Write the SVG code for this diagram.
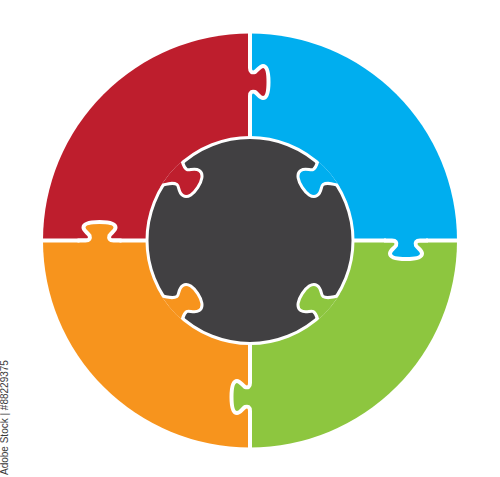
<svg xmlns="http://www.w3.org/2000/svg" xmlns:xlink="http://www.w3.org/1999/xlink" width="500" height="477" viewBox="0 0 500 477">
<style>
.gap{stroke:#ffffff;stroke-width:4;fill:none}
.ngap{stroke:#ffffff;stroke-width:3;stroke-linejoin:round}
.red{fill:#BE1E2D}.blue{fill:#00AEEF}.green{fill:#8DC63F}.orange{fill:#F7941D}.dark{fill:#414042}
.wm{font-family:"Liberation Sans",Arial,sans-serif;font-size:10px;fill:#3a3a3a}
</style>
<defs>
<path id="tabFill" d="M-20,-3 L-20,0 L-14,0 C-10,0 -9,2 -10,5 C-12,8 -16,10 -16,13 C-16,17 -9,18.5 0,18.5 C9,18.5 16,17 16,13 C16,10 12,8 10,5 C9,2 10,0 14,0 L20,0 L20,-3 Z"/>
<path id="tabLine" d="M-22,0 L-14,0 C-10,0 -9,2 -10,5 C-12,8 -16,10 -16,13 C-16,17 -9,18.5 0,18.5 C9,18.5 16,17 16,13 C16,10 12,8 10,5 C9,2 10,0 14,0 L22,0"/>
<path id="notch" d="M-23,-30 L-22,-6 C-15,0 -9,5 -9,10 C-9,13 -15,15 -15,21 C-15,27 -7,29 0,29 C7,29 15,27 15,21 C15,15 9,13 9,10 C9,5 15,0 22,-6 L23,-30 Z"/>
<clipPath id="inner"><circle cx="250" cy="240.5" r="104.5"/></clipPath>
</defs>
<g id="piece-red">
<path class="red" d="M250,240.5 L250,33.5 A207,207 0 0 0 43,240.5 Z"/>
</g>
<g id="piece-blue">
<path class="blue" d="M250,240.5 L250,33.5 A207,207 0 0 1 457,240.5 Z"/>
</g>
<g id="piece-green">
<path class="green" d="M250,240.5 L457,240.5 A207,207 0 0 1 250,447.5 Z"/>
</g>
<g id="piece-orange">
<path class="orange" d="M250,240.5 L250,447.5 A207,207 0 0 1 43,240.5 Z"/>
</g>
<g id="connectors">
<line class="gap" x1="250" y1="28" x2="250" y2="452"/>
<line class="gap" x1="38" y1="240.5" x2="462" y2="240.5"/>
<g id="tab-top" transform="translate(250,82) rotate(-90)">
<use xlink:href="#tabFill" href="#tabFill" class="red"/>
<use xlink:href="#tabLine" href="#tabLine" class="gap"/>
</g>
<g id="tab-left" transform="translate(99.5,240.5) rotate(180)">
<use xlink:href="#tabFill" href="#tabFill" class="orange"/>
<use xlink:href="#tabLine" href="#tabLine" class="gap"/>
</g>
<g id="tab-right" transform="translate(406,240.5)">
<use xlink:href="#tabFill" href="#tabFill" class="blue"/>
<use xlink:href="#tabLine" href="#tabLine" class="gap"/>
</g>
<g id="tab-bottom" transform="translate(250,397) rotate(90)">
<use xlink:href="#tabFill" href="#tabFill" class="green"/>
<use xlink:href="#tabLine" href="#tabLine" class="gap"/>
</g>
</g>
<g id="piece-center">
<circle class="dark" cx="250" cy="240.5" r="103" stroke="#ffffff" stroke-width="3"/>
<g clip-path="url(#inner)">
<use xlink:href="#notch" href="#notch" class="red ngap" transform="translate(173.46,171.58) rotate(-57)"/>
<use xlink:href="#notch" href="#notch" class="blue ngap" transform="translate(326.54,171.58) rotate(57)"/>
<use xlink:href="#notch" href="#notch" class="green ngap" transform="translate(326.54,309.42) rotate(123)"/>
<use xlink:href="#notch" href="#notch" class="orange ngap" transform="translate(173.46,309.42) rotate(237)"/>
</g>
</g>
<text class="wm" transform="translate(8,475) rotate(-90)">Adobe Stock | #88229375</text>
</svg>
